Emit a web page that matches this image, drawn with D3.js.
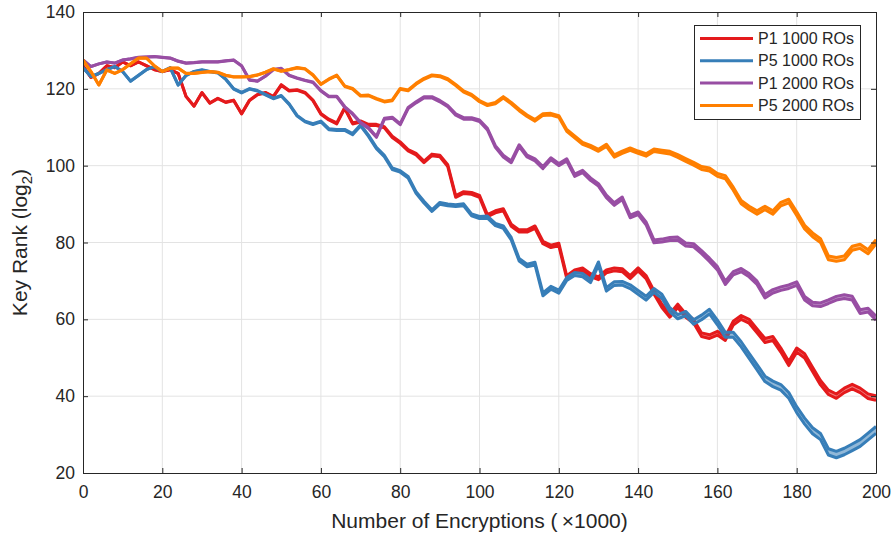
<!DOCTYPE html>
<html>
<head>
<meta charset="utf-8">
<script src="https://cdn.jsdelivr.net/npm/d3@7/dist/d3.min.js"></script>
<style>
  body { margin: 0; background: #fff; }
  svg { display: block; font-family: "Liberation Sans", Arial, Helvetica, sans-serif; }
</style>
</head>
<body>
<div id="chart"></div>
<script>
// ---------- data (key rank, log2) sampled every 2000 encryptions ----------
const encryptions = d3.range(0, 201, 2);

const p1_1000 = [126, 123, 124, 126, 125.5, 127, 126, 127, 126, 125, 124.5, 125, 124, 118, 115.5, 119, 116.3, 117.5, 116.5, 117,
  113.5, 117, 118.5, 119, 118, 121, 119.5, 119.7, 119, 117, 113.5, 112, 111, 115, 111, 111.5, 110.6, 110.6, 110, 107.5,
  106, 104, 103, 101, 102.8, 102.5, 100, 92, 93, 92.8, 92, 87, 88, 88.5, 84.5, 83, 83, 84, 80, 79,
  79.5, 71, 72.5, 73, 71.5, 70.7, 72.5, 73, 72.8, 71, 73, 71, 67, 63.5, 61, 63.5, 61, 59.5, 56, 55.5,
  56.4, 55, 59, 60.5, 59.5, 57, 54.5, 55, 52, 48.5, 52, 50.5, 47, 43.5, 41, 40, 41.5, 42.5, 41.5, 40, 39.5];

const p5_1000 = [125.5, 123.2, 124, 125, 125.8, 124.5, 122, 123.5, 125, 125.8, 124.5, 125.5, 121, 123.5, 124.5, 124.9, 124.5, 124.2, 122.5, 120,
  119, 120, 119.5, 118.5, 117.5, 118.2, 116, 113, 111.5, 110.8, 111.5, 109.5, 109.3, 109.3, 108.2, 110.5, 107.8, 104.6, 102.5, 99.2,
  98.5, 97, 93, 90.5, 88.3, 90.2, 89.8, 89.6, 89.8, 87.2, 86.5, 86.6, 84.7, 84, 81, 75.5, 74, 74.5, 66.5, 68.2,
  67.2, 70.5, 71.8, 71.5, 70, 74.5, 67.8, 69.3, 69.4, 68.5, 67, 65.5, 67.5, 66, 62.5, 60.7, 61.5, 59.3, 60.5, 62,
  59.2, 56, 56, 53.5, 50.5, 47.5, 44.5, 43.2, 42.3, 40.2, 36.5, 33.5, 31, 29.5, 25.5, 24.8, 25.6, 26.7, 27.8, 29.5, 31.2];

const p1_2000 = [127.5, 125.8, 126.5, 127, 126.7, 127.5, 127.8, 128.2, 128.3, 128.4, 128.2, 128, 127.2, 126.7, 126.8, 127, 127, 127, 127.3, 127.5,
  126, 122.3, 122, 123.3, 125, 125.3, 123.5, 122.8, 122.2, 121.7, 119.5, 118, 118, 115.3, 113.5, 111.2, 109.8, 107.5, 112.2, 112.5,
  110.8, 115, 116.5, 117.8, 117.8, 116.8, 115.5, 113.3, 112.3, 112.3, 111.7, 109.5, 105, 102.5, 101, 105.2, 102.5, 101.5, 99.5, 101.8,
  100.3, 101.5, 97.5, 98.5, 96.5, 95, 92, 90, 91.5, 86.8, 87.6, 85, 80.3, 80.5, 80.9, 81, 79.5, 79.3, 77.5, 75.5,
  73.3, 69.5, 72, 72.8, 71.5, 69.5, 66, 67.3, 68, 68.5, 69.3, 65.5, 64, 63.8, 64.6, 65.5, 65.9, 65.5, 62, 62.4, 60.3];

const p5_2000 = [127.5, 124.5, 121, 124.9, 124, 125, 126.5, 128, 128, 126, 124.5, 125.4, 125.4, 124, 124, 124.3, 124.5, 124.3, 123.5, 123.1,
  123.1, 123.2, 123.6, 124.3, 125.2, 124.6, 125, 125.5, 125.2, 123.6, 121.2, 122.5, 123.5, 120.7, 120, 118.2, 118.3, 117.4, 116.7, 117,
  120, 119.6, 121.3, 122.6, 123.5, 123.3, 122.5, 121, 119.3, 118.4, 116.8, 115.8, 116.3, 117.8, 116.3, 114.5, 113, 111.8, 113.3, 113.4,
  112.8, 109.2, 107.5, 105.8, 105, 104, 105.3, 102.5, 103.5, 104.3, 103.5, 102.8, 104, 103.7, 103.4, 102.5, 101.5, 100.5, 99.4, 99,
  97.6, 97, 94, 90.5, 89, 87.8, 89, 87.8, 90, 90.8, 87.5, 84, 82, 80.5, 76, 75.6, 76, 78.5, 79, 77.6, 80.2];

// spread between lower and upper bound, read at a few checkpoints
const bandX = [0, 50, 100, 150, 200];
const spreadP1_1000 = [0, 0.15, 0.5, 0.9, 1.2];
const spreadP5_1000 = [0, 0.15, 0.55, 1.1, 1.8];
const spreadP1_2000 = [0, 0.1, 0.4, 0.8, 1.0];
const spreadP5_2000 = [0, 0.1, 0.3, 0.7, 1.1];

const seriesNames = ['P1 1000 ROs', 'P5 1000 ROs', 'P1 2000 ROs', 'P5 2000 ROs'];
const seriesColors = ['#e41a1c', '#377eb8', '#984ea3', '#ff7f00'];
const seriesValues = [p1_1000, p5_1000, p1_2000, p5_2000];
const seriesSpread = [spreadP1_1000, spreadP5_1000, spreadP1_2000, spreadP5_2000];

const xTicks = [0, 20, 40, 60, 80, 100, 120, 140, 160, 180, 200];
const yTicks = [20, 40, 60, 80, 100, 120, 140];

// ---------- layout ----------
const width = 893, height = 535;
const plotLeft = 83, plotRight = 876, plotTop = 12, plotBottom = 473;
const ink = '#262626';

const svg = d3.select('#chart').append('svg')
  .attr('width', width).attr('height', height);

const x = d3.scaleLinear().domain([0, 200]).range([plotLeft, plotRight]);
const y = d3.scaleLinear().domain([20, 140]).range([plotBottom, plotTop]);

svg.append('defs').append('clipPath').attr('id', 'plot')
  .append('rect').attr('x', plotLeft).attr('y', plotTop)
  .attr('width', plotRight - plotLeft).attr('height', plotBottom - plotTop);

// grid
const grid = svg.append('g').attr('stroke', '#e3e3e3').attr('stroke-width', 1);
grid.selectAll('.gx').data(xTicks.slice(1, -1)).join('line')
  .attr('x1', d => x(d)).attr('x2', d => x(d)).attr('y1', plotTop).attr('y2', plotBottom);
grid.selectAll('.gy').data(yTicks.slice(1, -1)).join('line')
  .attr('y1', d => y(d)).attr('y2', d => y(d)).attr('x1', plotLeft).attr('x2', plotRight);

// ---------- bands ----------
const dataLayer = svg.append('g').attr('clip-path', 'url(#plot)');

seriesValues.forEach((vals, i) => {
  const spread = d3.scaleLinear().domain(bandX).range(seriesSpread[i]);
  const pts = encryptions.map((e, j) => ({
    e, lo: vals[j] - spread(e) / 2, hi: vals[j] + spread(e) / 2
  }));
  const g = dataLayer.append('g');
  g.append('path').datum(pts)
    .attr('fill', seriesColors[i]).attr('fill-opacity', 0.55)
    .attr('d', d3.area().x(d => x(d.e)).y0(d => y(d.lo)).y1(d => y(d.hi)));
  ['lo', 'hi'].forEach(k => {
    g.append('path').datum(pts)
      .attr('fill', 'none').attr('stroke', seriesColors[i])
      .attr('stroke-width', 3).attr('stroke-linejoin', 'round')
      .attr('d', d3.line().x(d => x(d.e)).y(d => y(d[k])));
  });
});

// ---------- axes (box with inward ticks) ----------
function styleAxis(g) {
  g.selectAll('path.domain').attr('stroke', ink);
  g.selectAll('.tick line').attr('stroke', ink);
  g.selectAll('.tick text').attr('fill', ink).attr('font-size', 17.5);
}

svg.append('g').attr('transform', `translate(0,${plotBottom})`)
  .call(d3.axisBottom(x).tickValues(xTicks).tickSize(-5).tickSizeOuter(0).tickPadding(13))
  .call(styleAxis);
svg.append('g').attr('transform', `translate(${plotLeft},0)`)
  .call(d3.axisLeft(y).tickValues(yTicks).tickSize(-5).tickSizeOuter(0).tickPadding(8))
  .call(styleAxis);
svg.append('g').attr('transform', `translate(0,${plotTop})`)
  .call(d3.axisTop(x).tickValues(xTicks).tickSize(-5).tickSizeOuter(0).tickFormat(''))
  .call(styleAxis);
svg.append('g').attr('transform', `translate(${plotRight},0)`)
  .call(d3.axisRight(y).tickValues(yTicks).tickSize(-5).tickSizeOuter(0).tickFormat(''))
  .call(styleAxis);

// axis labels
svg.append('text')
  .attr('x', (plotLeft + plotRight) / 2).attr('y', 528)
  .attr('text-anchor', 'middle').attr('font-size', 21).attr('fill', ink)
  .text('Number of Encryptions (\u2009\u00d71000)');

const yl = svg.append('text')
  .attr('transform', `translate(27,${(plotTop + plotBottom) / 2}) rotate(-90)`)
  .attr('text-anchor', 'middle').attr('font-size', 21).attr('fill', ink);
yl.append('tspan').text('Key Rank (log');
yl.append('tspan').attr('dy', 5).attr('font-size', 15).text('2');
yl.append('tspan').attr('dy', -5).text(')');

// ---------- legend ----------
const legend = svg.append('g');
legend.append('rect')
  .attr('x', 694.5).attr('y', 25.5).attr('width', 166).attr('height', 94)
  .attr('fill', '#fff').attr('stroke', ink).attr('stroke-width', 1);
const rows = legend.selectAll('.row').data(seriesNames).join('g')
  .attr('transform', (d, i) => `translate(0,${38.5 + i * 22.3})`);
rows.append('line')
  .attr('x1', 700).attr('x2', 753)
  .attr('stroke', (d, i) => seriesColors[i]).attr('stroke-width', 3);
rows.append('text')
  .attr('x', 758).attr('dy', '0.35em')
  .attr('font-size', 16).attr('fill', ink)
  .text(d => d);
</script>
</body>
</html>
